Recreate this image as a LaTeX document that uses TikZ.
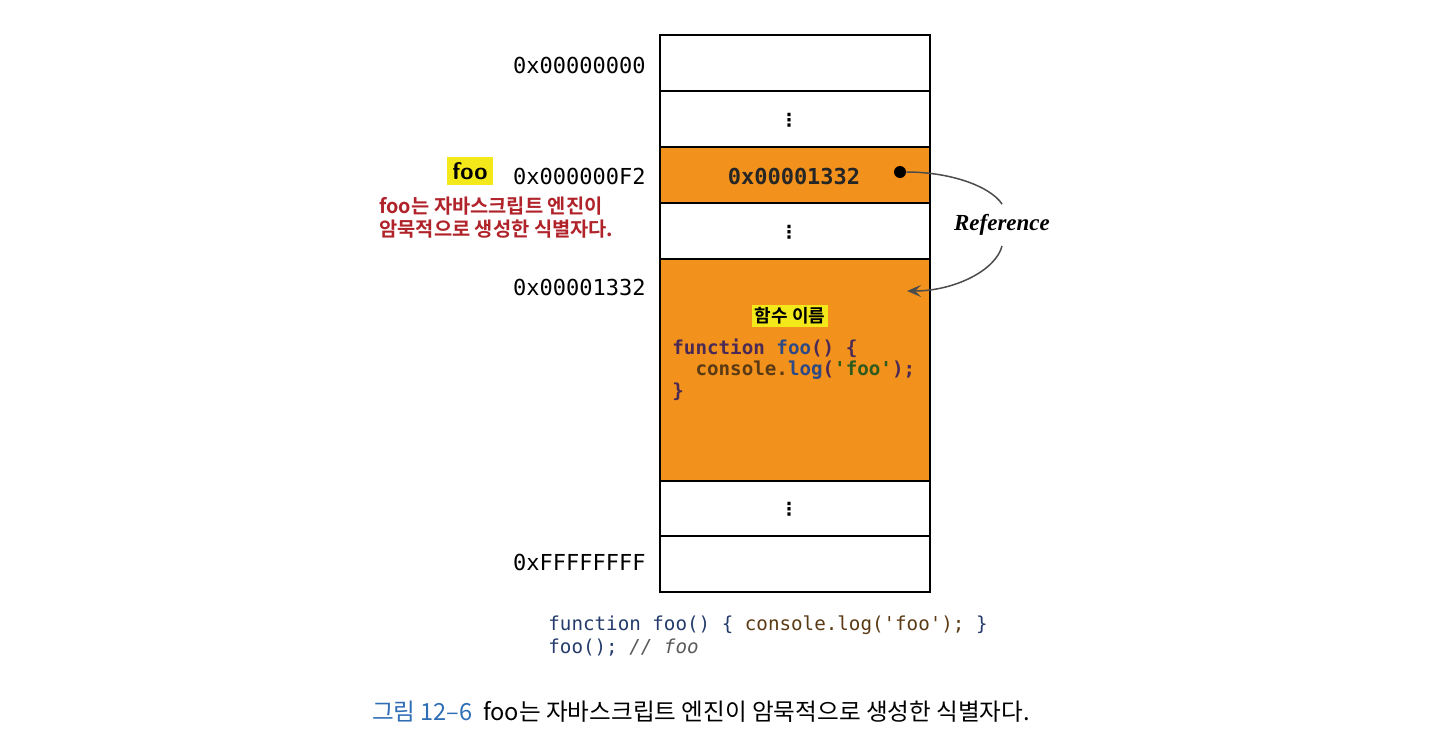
\documentclass[tikz,border=0pt]{standalone}
\usepackage{fontspec}
\setmonofont{DejaVu Sans Mono}
\newfontfamily\krfont{Noto Sans CJK KR}[BoldFont={Noto Sans CJK KR Bold}]
\newfontfamily\dotsfont{DejaVu Sans}
\newfontfamily\labelserif{Liberation Serif}
\usetikzlibrary{arrows.meta}
\definecolor{memorange}{HTML}{F2921C}
\definecolor{hlyellow}{HTML}{F3E81A}
\definecolor{notered}{HTML}{B0232A}
\definecolor{capblue}{HTML}{2F6DB5}
\definecolor{kwpurple}{HTML}{4A2A55}
\definecolor{fnblue}{HTML}{2D4A86}
\definecolor{objbrown}{HTML}{5A3A14}
\definecolor{strgreen}{HTML}{2E5A1E}
\colorlet{codenavy}{fnblue!80!black}
\colorlet{arrowgray}{black!70}

\begin{document}
\begin{tikzpicture}[x=0.5pt, y=-0.5pt,
  cell/.style={draw=black, line width=1pt},
  addr/.style={font=\ttfamily\fontsize{11}{13}\selectfont, anchor=east, inner sep=0pt},
  gap/.style={font=\dotsfont\bfseries\fontsize{9}{10}\selectfont, inner sep=0pt},
  boxcode/.style={font=\ttfamily\bfseries\fontsize{9.6}{11}\selectfont, anchor=west, inner sep=0pt},
  plaincode/.style={font=\ttfamily\fontsize{9.6}{11}\selectfont, anchor=west, inner sep=0pt},
  marker/.style={fill=hlyellow, inner sep=1.5pt, font=\krfont\bfseries\fontsize{9}{10}\selectfont},
  refline/.style={draw=arrowgray, line width=0.75pt}]
  \useasboundingbox (0,0) rectangle (1440,744);

  % memory cells
  \fill[memorange] (660,147) rectangle (930,203);
  \fill[memorange] (660,259) rectangle (930,481);
  \draw[cell] (660,35) rectangle (930,592);
  \draw[cell] (660,91)  -- (930,91);
  \draw[cell] (660,147) -- (930,147);
  \draw[cell] (660,203) -- (930,203);
  \draw[cell] (660,259) -- (930,259);
  \draw[cell] (660,481) -- (930,481);
  \draw[cell] (660,536) -- (930,536);

  % skipped cells
  \node[gap] (skipa) at (789,120) {⋮};
  \node[gap] (skipb) at (789,232) {⋮};
  \node[gap] (skipc) at (789,509) {⋮};

  % addresses
  \node[addr] (adrfirst) at (646,65)  {0x00000000};
  \node[addr] (adrfoo)   at (646,176) {0x000000F2};
  \node[addr] (adrfunc)  at (646,287) {0x00001332};
  \node[addr] (adrlast)  at (646,562) {0xFFFFFFFF};

  % identifier foo
  \node[marker, font=\sffamily\bfseries\fontsize{12}{13}\selectfont, inner sep=2.5pt] (fooname) at (470,171) {foo};
  \node[anchor=north west, align=left, inner sep=0pt, text=notered,
        font=\krfont\bfseries\fontsize{9.9}{11.5}\selectfont] (fooremark) at (379,196)
    {foo는 자바스크립트 엔진이\\암묵적으로 생성한 식별자다.};

  % stored reference
  \node[font=\ttfamily\bfseries\fontsize{11}{13}\selectfont, text=black!85] (refvalue) at (794,176) {0x00001332};
  \node[circle, fill=black, inner sep=0pt, minimum size=6pt] (dot) at (900,172) {};

  % function object
  \node[marker] (funclabel) at (790,316) {함수 이름};
  \node[boxcode] (codea) at (672,348)
    {\textcolor{kwpurple}{function} \textcolor{fnblue}{foo}\textcolor{kwpurple}{() \{}};
  \node[boxcode] (codeb) at (672,370)
    {\ \ \textcolor{objbrown}{console.}\textcolor{fnblue}{log}\textcolor{kwpurple}{(}\textcolor{strgreen}{'foo'}\textcolor{kwpurple}{);}};
  \node[boxcode] (codec) at (672,392) {\textcolor{kwpurple}{\}}};
  \coordinate (functop) at (907,291);

  % reference arrow
  \node[font=\labelserif\bfseries\itshape\fontsize{11.5}{13}\selectfont, inner sep=5pt] (reflabel) at (1002,225) {Reference};
  \draw[refline] (dot.east) .. controls (950,172) and (990,186) .. (reflabel.north);
  \draw[refline, -{Stealth[length=7pt, width=6pt, inset=3pt]}]
    (reflabel.south) .. controls (996,270) and (955,291) .. (functop);

  % source code
  \node[plaincode] (srca) at (548,625)
    {\textcolor{codenavy}{function foo() \{} \textcolor{objbrown}{console.log('foo');} \textcolor{codenavy}{\}}};
  \node[plaincode] (srcb) at (548,648)
    {\textcolor{codenavy}{foo();} \textcolor{black!65}{\itshape // foo}};

  % caption
  \node[font=\krfont\fontsize{11.8}{13}\selectfont, inner sep=0pt] (caption) at (701,712)
    {\textcolor{capblue}{그림 12–6}\ \ foo는 자바스크립트 엔진이 암묵적으로 생성한 식별자다.};
\end{tikzpicture}
\end{document}
